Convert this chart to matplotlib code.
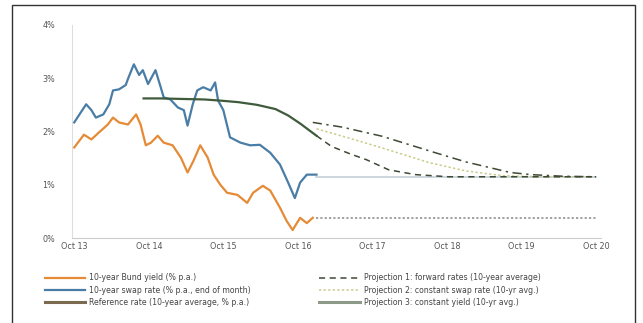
import matplotlib
matplotlib.use("Agg")
import matplotlib.pyplot as plt
from matplotlib.patches import Rectangle
from matplotlib.lines import Line2D

# ---------------- data ----------------
yield_t = [2013.75, 2013.88, 2013.98, 2014.08, 2014.20, 2014.27, 2014.35, 2014.47, 2014.58, 2014.64,
           2014.71, 2014.78, 2014.87, 2014.95, 2015.07, 2015.18, 2015.27, 2015.35, 2015.44, 2015.54,
           2015.62, 2015.71, 2015.80, 2015.94, 2016.07, 2016.15, 2016.28, 2016.38, 2016.51, 2016.60,
           2016.68, 2016.78, 2016.87, 2016.95]
yield_v = [1.70, 1.94, 1.85, 1.98, 2.13, 2.26, 2.17, 2.13, 2.32, 2.13,
           1.74, 1.79, 1.92, 1.79, 1.74, 1.51, 1.23, 1.45, 1.74, 1.51,
           1.19, 1.00, 0.85, 0.81, 0.66, 0.85, 0.98, 0.89, 0.57, 0.32,
           0.15, 0.38, 0.28, 0.38]

swap_t = [2013.75, 2013.82, 2013.91, 2013.98, 2014.04, 2014.14, 2014.22, 2014.27, 2014.35, 2014.44,
          2014.48, 2014.55, 2014.62, 2014.67, 2014.74, 2014.84, 2014.91, 2014.95, 2015.04, 2015.14,
          2015.22, 2015.27, 2015.34, 2015.40, 2015.48, 2015.58, 2015.64, 2015.68, 2015.75, 2015.84,
          2015.98, 2016.11, 2016.24, 2016.38, 2016.51, 2016.62, 2016.71, 2016.78, 2016.87, 2017.00]
swap_v = [2.17, 2.32, 2.51, 2.40, 2.26, 2.32, 2.51, 2.77, 2.79, 2.87,
          3.02, 3.26, 3.06, 3.15, 2.89, 3.15, 2.83, 2.64, 2.60, 2.45,
          2.40, 2.11, 2.51, 2.77, 2.83, 2.77, 2.92, 2.58, 2.40, 1.89,
          1.79, 1.74, 1.75, 1.60, 1.38, 1.04, 0.75, 1.04, 1.19, 1.19]

avg_t = [2014.68, 2014.90, 2015.20, 2015.50, 2015.70, 2015.95, 2016.20, 2016.45, 2016.62, 2016.78, 2017.00]
avg_v = [2.62, 2.62, 2.61, 2.60, 2.58, 2.55, 2.50, 2.42, 2.30, 2.15, 1.92]

proj1_t = [2017.00, 2017.20, 2017.45, 2017.67, 2017.97, 2018.33, 2018.77, 2019.50, 2020.75]
proj1_v = [1.92, 1.72, 1.58, 1.47, 1.28, 1.19, 1.15, 1.15, 1.15]

proj2_t = [2017.00, 2017.50, 2018.00, 2018.50, 2019.00, 2019.50, 2020.00, 2020.75]
proj2_v = [2.05, 1.85, 1.64, 1.42, 1.26, 1.17, 1.15, 1.15]

proj3_t = [2016.95, 2017.35, 2017.88, 2018.55, 2019.00, 2019.27, 2019.60, 2019.88, 2020.30, 2020.75]
proj3_v = [2.17, 2.08, 1.91, 1.62, 1.43, 1.34, 1.23, 1.19, 1.16, 1.15]

swap_flat_t = [2017.00, 2020.75]
swap_flat_v = [1.15, 1.15]
yield_flat_t = [2017.00, 2020.75]
yield_flat_v = [0.37, 0.37]

xtick_pos = [2013.75, 2014.75, 2015.75, 2016.75, 2017.75, 2018.75, 2019.75, 2020.75]
xtick_labels = ["Oct 13", "Oct 14", "Oct 15", "Oct 16", "Oct 17", "Oct 18", "Oct 19", "Oct 20"]
ytick_pos = [0, 1, 2, 3, 4]
ytick_labels = ["0%", "1%", "2%", "3%", "4%"]

labels_left = ["10-year Bund yield (% p.a.)",
               "10-year swap rate (% p.a., end of month)",
               "Reference rate (10-year average, % p.a.)"]
labels_right = ["Projection 1: forward rates (10-year average)",
                "Projection 2: constant swap rate (10-yr avg.)",
                "Projection 3: constant yield (10-yr avg.)"]

# ---------------- style ----------------
c_orange = "#E58A36"
c_blue = "#4A7DA6"
c_green = "#3E5B3C"
c_dash = "#3F4A35"
c_light = "#C9CC8A"
c_grey = "#8E9A88"

fig = plt.figure(figsize=(6.43, 3.23), dpi=100)
ax = fig.add_axes([0.112, 0.263, 0.823, 0.66])

ax.plot(swap_flat_t, swap_flat_v, color="#C8D3DA", lw=1.3, zorder=1)
ax.plot(yield_flat_t, yield_flat_v, color="#9A9A9A", lw=1.3, ls=(0, (1.2, 1.2)), zorder=1)
ax.plot(proj2_t, proj2_v, color=c_light, lw=1.1, ls=(0, (1.5, 1.5)), zorder=2)
ax.plot(proj3_t, proj3_v, color=c_dash, lw=1.1, ls=(0, (6, 3, 1.5, 3)), zorder=2)
ax.plot(proj1_t, proj1_v, color=c_dash, lw=1.1, ls=(0, (4, 3)), zorder=2)
ax.plot(yield_t, yield_v, color=c_orange, lw=1.6, zorder=3)
ax.plot(swap_t, swap_v, color=c_blue, lw=1.6, zorder=3)
ax.plot(avg_t, avg_v, color=c_green, lw=1.6, zorder=4)

ax.set_xlim(2013.72, 2020.82)
ax.set_ylim(0, 4)
ax.set_xticks(xtick_pos)
ax.set_xticklabels(xtick_labels, fontsize=5.8, color="#555555")
ax.set_yticks(ytick_pos)
ax.set_yticklabels(ytick_labels, fontsize=5.8, color="#555555")
ax.tick_params(axis="y", length=0, pad=12)
ax.tick_params(axis="x", length=0, pad=3)
for s in ["top", "right"]:
    ax.spines[s].set_visible(False)
ax.spines["left"].set_color("#DDDDDD")
ax.spines["bottom"].set_color("#CCCCCC")

h_left = [Line2D([], [], color=c_orange, lw=1.6),
          Line2D([], [], color=c_blue, lw=1.6),
          Line2D([], [], color="#7A6A50", lw=2.2)]
h_right = [Line2D([], [], color=c_dash, lw=1.1, ls=(0, (4, 3))),
           Line2D([], [], color=c_light, lw=1.1, ls=(0, (1.5, 1.5))),
           Line2D([], [], color=c_grey, lw=2.2)]
leg1 = fig.legend(h_left, labels_left, loc="upper left", bbox_to_anchor=(0.065, 0.163),
                  frameon=False, fontsize=5.6, handlelength=5.2, labelspacing=0.4,
                  handletextpad=0.5, borderaxespad=0)
for t in leg1.get_texts():
    t.set_color("#444444")
leg2 = fig.legend(h_right, labels_right, loc="upper left", bbox_to_anchor=(0.492, 0.163),
                  frameon=False, fontsize=5.6, handlelength=5.2, labelspacing=0.4,
                  handletextpad=0.5, borderaxespad=0)
for t in leg2.get_texts():
    t.set_color("#444444")

fig.patches.append(Rectangle((12 / 643, -0.01), (635 - 12) / 643, 1 - 5 / 323 + 0.01,
                             transform=fig.transFigure, fill=False, ec="#333333", lw=1.0))

fig.savefig("out.png", dpi=100)
